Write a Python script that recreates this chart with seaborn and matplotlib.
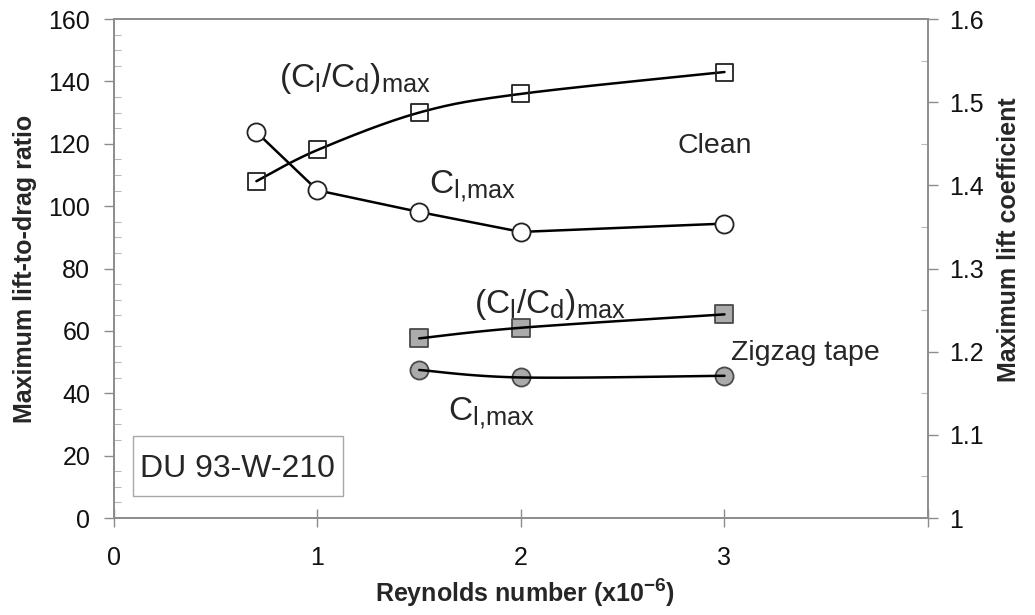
import numpy as np
import pandas as pd
import matplotlib
matplotlib.use("Agg")
import matplotlib.pyplot as plt
import seaborn as sns
from matplotlib.patches import Rectangle
from matplotlib.ticker import FixedLocator, MultipleLocator

# ---- data -------------------------------------------------------------
re_clean = [0.7, 1.0, 1.5, 2.0, 3.0]
ld_clean = [108.0, 118.0, 130.0, 136.0, 143.0]
cl_clean = [1.464, 1.394, 1.368, 1.344, 1.354]

re_zigzag = [1.5, 2.0, 3.0]
ld_zigzag = [57.6, 61.0, 65.3]
cl_zigzag = [1.178, 1.169, 1.171]

x_ticks = [0, 1, 2, 3]
ld_ticks = [0, 20, 40, 60, 80, 100, 120, 140, 160]
cl_ticks = [1.0, 1.1, 1.2, 1.3, 1.4, 1.5, 1.6]
cl_tick_labels = ["1", "1.1", "1.2", "1.3", "1.4", "1.5", "1.6"]

# ---- style ------------------------------------------------------------
sns.set_style("white")
plt.rcParams["font.family"] = ["Liberation Sans", "DejaVu Sans"]
plt.rcParams["mathtext.fontset"] = "custom"
plt.rcParams["mathtext.rm"] = "Liberation Sans"
plt.rcParams["mathtext.it"] = "Liberation Sans:italic"
plt.rcParams["mathtext.bf"] = "Liberation Sans:bold"

# slightly larger subscripts than the mathtext default
try:
    import matplotlib._mathtext as _mt
    _mt.SHRINK_FACTOR = 0.76
except Exception:
    pass

SPINE = "#8c8c8c"
GREY_FILL = "#ababab"
GREY_EDGE = "#4a4a4a"


def smooth(x, y, n=60):
    """Bezier smoothing through every point (Catmull-Rom style)."""
    x = np.asarray(x, float)
    y = np.asarray(y, float)
    px = np.concatenate([[x[0]], x, [x[-1]]])
    py = np.concatenate([[y[0]], y, [y[-1]]])
    xs, ys = [], []
    t = np.linspace(0, 1, n)
    for i in range(len(x) - 1):
        p0 = np.array([px[i], py[i]])
        p1 = np.array([px[i + 1], py[i + 1]])
        p2 = np.array([px[i + 2], py[i + 2]])
        p3 = np.array([px[i + 3], py[i + 3]])
        c1 = p1 + (p2 - p0) / 6.0
        c2 = p2 - (p3 - p1) / 6.0
        b = ((1 - t) ** 3)[:, None] * p1 + (3 * (1 - t) ** 2 * t)[:, None] * c1 \
            + (3 * (1 - t) * t ** 2)[:, None] * c2 + (t ** 3)[:, None] * p2
        xs.append(b[:, 0])
        ys.append(b[:, 1])
    return np.concatenate(xs), np.concatenate(ys)


fig = plt.figure(figsize=(10.35, 6.15), dpi=100)
ax = fig.add_axes([0.1101, 0.1577, 0.7865, 0.8114])
ax2 = ax.twinx()

# ---- lift-to-drag ratio (left axis) -----------------------------------
sx, sy = smooth(re_clean, ld_clean)
sns.lineplot(x=sx, y=sy, sort=False, ax=ax, color="black", lw=1.8, zorder=3)
sns.scatterplot(x=re_clean, y=ld_clean, ax=ax, marker="s", s=150,
                facecolor="none", edgecolor="#222222", linewidth=1.3, zorder=4)

sx, sy = smooth(re_zigzag, ld_zigzag)
sns.scatterplot(x=re_zigzag, y=ld_zigzag, ax=ax, marker="s", s=150,
                color=GREY_FILL, edgecolor=GREY_EDGE, linewidth=1.3, zorder=3)
sns.lineplot(x=sx, y=sy, sort=False, ax=ax, color="black", lw=1.8, zorder=4)

# ---- maximum lift coefficient (right axis) ----------------------------
sns.lineplot(x=re_clean, y=cl_clean, sort=False, ax=ax2, color="black",
             lw=1.8, zorder=3)
sns.scatterplot(x=re_clean, y=cl_clean, ax=ax2, marker="o", s=170,
                color="white", edgecolor="#222222", linewidth=1.3, zorder=4)

sx, sy = smooth(re_zigzag, cl_zigzag)
sns.scatterplot(x=re_zigzag, y=cl_zigzag, ax=ax2, marker="o", s=170,
                color=GREY_FILL, edgecolor=GREY_EDGE, linewidth=1.3, zorder=3)
sns.lineplot(x=sx, y=sy, sort=False, ax=ax2, color="black", lw=1.8, zorder=4)

# ---- axes -------------------------------------------------------------
ax.set_xlim(0, 4)
ax.set_ylim(0, 160)
ax2.set_ylim(1.0, 1.6)

ax.xaxis.set_major_locator(FixedLocator(x_ticks + [4]))
ax.set_xticklabels([str(v) for v in x_ticks] + [""])
ax.yaxis.set_major_locator(FixedLocator(ld_ticks))
ax.yaxis.set_minor_locator(MultipleLocator(5))
ax2.yaxis.set_major_locator(FixedLocator(cl_ticks))
ax2.set_yticklabels(cl_tick_labels)
ax2.yaxis.set_minor_locator(MultipleLocator(0.05))

for a in (ax, ax2):
    for sp in a.spines.values():
        sp.set_color(SPINE)
        sp.set_linewidth(1.2)
        sp.set_visible(True)

ax.tick_params(axis="x", which="major", direction="inout", length=13,
               width=1.0, color=SPINE, labelsize=18, pad=14,
               labelcolor="#111111", bottom=True, top=False)
ax.tick_params(axis="y", which="major", direction="out", length=7,
               width=1.0, color=SPINE, labelsize=18, pad=10,
               labelcolor="#111111", left=True, right=False)
ax.tick_params(axis="y", which="minor", direction="in", length=5,
               width=0.8, color="#b8b8b8", left=True, right=False)
ax2.tick_params(axis="y", which="major", direction="out", length=7,
                width=1.0, color=SPINE, labelsize=18, pad=8,
                labelcolor="#111111", right=True, left=False)
ax2.tick_params(axis="y", which="minor", direction="in", length=5,
                width=0.8, color="#b8b8b8", right=True, left=False)

ax.set_xlabel(r"Reynolds number (x10$^{\mathbf{-6}}$)", fontsize=18,
              fontweight="bold")
ax.set_ylabel("Maximum lift-to-drag ratio", fontsize=18, fontweight="bold")
ax2.set_ylabel("Maximum lift coefficient", fontsize=18, fontweight="bold")
ax.xaxis.set_label_coords(0.505, -0.118)
ax.yaxis.set_label_coords(-0.094, 0.5)
ax2.yaxis.set_label_coords(1.085, 0.557)

ax.set_zorder(ax2.get_zorder() + 1)
ax.patch.set_visible(False)

# ---- annotations ------------------------------------------------------
ld_label = r"$(\mathrm{C}_{\mathrm{l}}/\mathrm{C}_{\mathrm{d}})_{\mathrm{max}}$"
cl_label = r"$\mathrm{C}_{\mathrm{l{,}max}}$"

ax.text(0.812, 138.1, ld_label, fontsize=24, va="baseline", ha="left")
ax.text(1.547, 104.2, cl_label, fontsize=24, va="baseline", ha="left")
ax.text(2.770, 117.0, "Clean", fontsize=20.5, va="baseline", ha="left")
ax.text(1.767, 65.7, ld_label, fontsize=24, va="baseline", ha="left")
ax.text(3.030, 50.7, "Zigzag tape", fontsize=20.5, va="baseline", ha="left")
ax.text(1.640, 31.4, cl_label, fontsize=24, va="baseline", ha="left")

ax.add_patch(Rectangle((0.0233, 0.0441), 0.258, 0.1202, transform=ax.transAxes,
                       facecolor="white", edgecolor="#a8a8a8", lw=1.0,
                       zorder=2))
ax.text(0.127, 13.1, "DU 93-W-210", fontsize=23, va="baseline", ha="left",
        zorder=3)

fig.savefig("out.png", dpi=100, facecolor="white")
